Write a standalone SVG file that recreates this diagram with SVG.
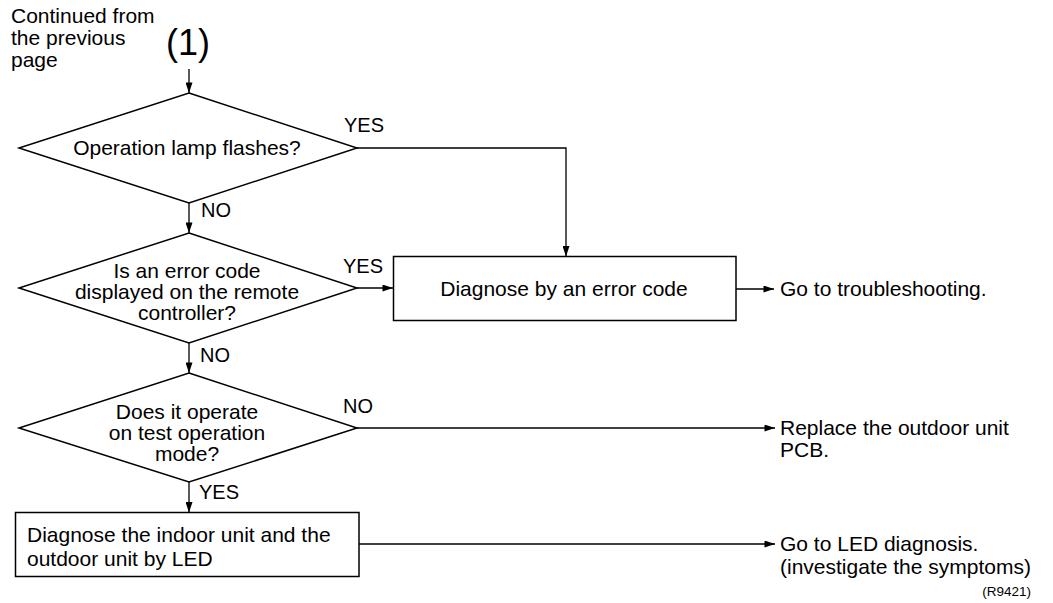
<svg xmlns="http://www.w3.org/2000/svg" width="1053" height="603" viewBox="0 0 1053 603">
<style>
  text { font-family: "Liberation Sans", Arial, sans-serif; font-size: 21px; fill: #000; }
  .c { text-anchor: middle; }
  .lbl { font-size: 20px; }
  .shape { fill: #fff; stroke: #000; stroke-width: 1.5; }
  .conn { fill: none; stroke: #000; stroke-width: 1.3; }
</style>
<defs>
  <marker id="arr" viewBox="0 0 12 8" refX="12" refY="4" markerWidth="12" markerHeight="7" markerUnits="userSpaceOnUse" orient="auto">
    <path d="M0,0 L12,4 L0,8 Z" fill="#000"/>
  </marker>
</defs>
<rect width="1053" height="603" fill="#fff"/>

<g id="start">
  <text x="11" y="23">Continued from</text>
  <text x="11" y="45">the previous</text>
  <text x="11" y="67">page</text>
  <text x="188" y="55" class="c" style="font-size:36px">(1)</text>
</g>

<g id="connectors">
  <path class="conn" d="M189,69 V93" marker-end="url(#arr)"/>
  <path class="conn" d="M357,148 H566 V256.5" marker-end="url(#arr)"/>
  <path class="conn" d="M189,203 V233" marker-end="url(#arr)"/>
  <path class="conn" d="M357,288 H393" marker-end="url(#arr)"/>
  <path class="conn" d="M736,289 H774" marker-end="url(#arr)"/>
  <path class="conn" d="M189,343 V373" marker-end="url(#arr)"/>
  <path class="conn" d="M357,428 H775" marker-end="url(#arr)"/>
  <path class="conn" d="M189,482 V512.5" marker-end="url(#arr)"/>
  <path class="conn" d="M359,544 H775" marker-end="url(#arr)"/>
  <text x="344" y="132" class="lbl">YES</text>
  <text x="201" y="217" class="lbl">NO</text>
  <text x="343" y="273" class="lbl">YES</text>
  <text x="200" y="362" class="lbl">NO</text>
  <text x="343" y="413" class="lbl">NO</text>
  <text x="199" y="499" class="lbl">YES</text>
</g>

<g id="d1">
  <polygon class="shape" points="189,93 357,148 189,203 19,148"/>
  <text x="187" y="155" class="c">Operation lamp flashes?</text>
</g>

<g id="d2">
  <polygon class="shape" points="189,233 357,288 189,343 19,288"/>
  <text x="187" y="278" class="c">Is an error code</text>
  <text x="187" y="299" class="c">displayed on the remote</text>
  <text x="187" y="320" class="c">controller?</text>
</g>

<g id="d3">
  <polygon class="shape" points="189,373 357,428 189,482 19,428"/>
  <text x="187" y="419" class="c">Does it operate</text>
  <text x="187" y="440" class="c">on test operation</text>
  <text x="187" y="461" class="c">mode?</text>
</g>

<g id="b1">
  <rect class="shape" x="393.5" y="256.5" width="342.5" height="64"/>
  <text x="564" y="296" class="c">Diagnose by an error code</text>
</g>

<g id="b2">
  <rect class="shape" x="15.5" y="512.5" width="343.5" height="64"/>
  <text x="27" y="542">Diagnose the indoor unit and the</text>
  <text x="27" y="566">outdoor unit by LED</text>
</g>

<g id="r1">
  <text x="780" y="296">Go to troubleshooting.</text>
</g>

<g id="r2">
  <text x="780" y="435">Replace the outdoor unit</text>
  <text x="780" y="457">PCB.</text>
</g>

<g id="r3">
  <text x="780" y="551">Go to LED diagnosis.</text>
  <text x="780" y="574">(investigate the symptoms)</text>
</g>

<text x="1031" y="596" style="font-size:13.5px; text-anchor:end">(R9421)</text>
</svg>
